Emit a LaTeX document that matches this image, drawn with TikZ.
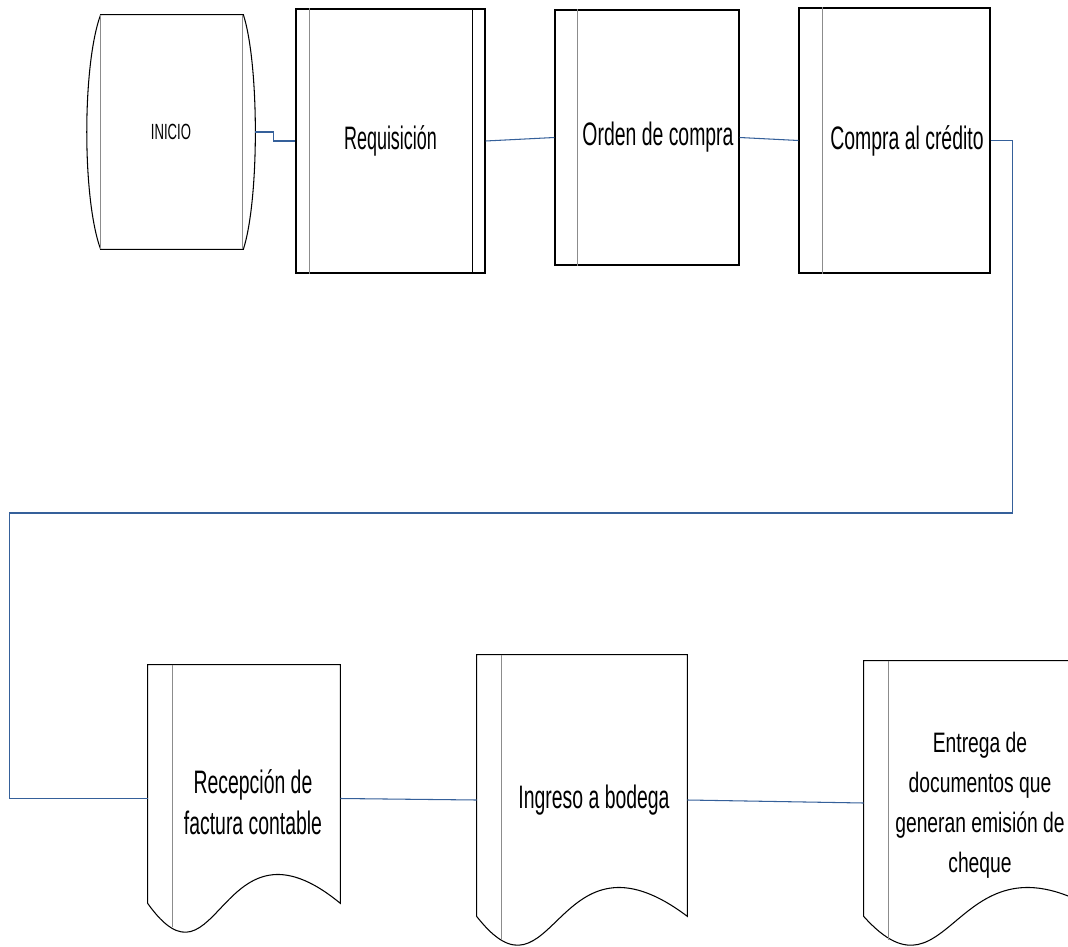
\documentclass[tikz,border=0pt]{standalone}
\usepackage{fontspec}
\setmainfont{Liberation Sans}[FakeStretch=0.597]
\newfontfamily\fcnarrow{Liberation Sans}[FakeStretch=0.553]
\newfontfamily\fcwide{Liberation Sans}[FakeStretch=0.686]
\usepackage{tikz}
\usetikzlibrary{calc, positioning}
\definecolor{fcLine}{HTML}{35609A}
\definecolor{fcBar}{HTML}{8C8C8C}
\tikzset{
  fcedge/.style={draw=black, line width=0.6pt},
  fcproc/.style={fcedge, inner sep=0pt, align=center},
  fcdoc/.style={inner sep=0pt},
  fcterm/.style={inner sep=0pt, font=\fontsize{12.5}{15}\selectfont},
  fcbar/.style={draw=fcBar, line width=0.8pt},
  fclink/.style={draw=fcLine, line width=0.6pt},
  fctext/.style={font=\fontsize{18.5}{23}\selectfont, align=center, inner sep=0pt},
}
% document shape: wavy bottom plus left bar
\newcommand{\fcdocshape}[1]{%
  \draw[fcedge] ($(#1.south east)+(0,0.58)$) -- (#1.north east) -- (#1.north west)
    -- ($(#1.south west)+(0,0.58)$)
    .. controls ($(#1.south west)!0.37!(#1.south east)+(0,-1.42)$)
    and ($(#1.south west)!0.37!(#1.south east)+(0,2.58)$) .. cycle;
  \draw[fcbar] ([xshift=0.5cm]#1.north west) -- ([xshift=0.5cm,yshift=0.1cm]#1.south west);}
\newcommand{\fcprocbar}[2]{%
  \draw[fcbar] ([xshift=#2]#1.north west) -- ([xshift=#2]#1.south west);}

\begin{document}
\begin{tikzpicture}
\useasboundingbox (0,0) rectangle (21.36,-18.94);
\clip (0,0) rectangle (21.36,-18.94);

% top row
\node[fcterm, minimum width=3.36cm, minimum height=4.68cm] (ini) at (3.42,-2.64) {INICIO};
\draw[fcedge] ([xshift=0.28cm]ini.north west) -- ([xshift=-0.24cm]ini.north east)
  .. controls ([xshift=0.08cm,yshift=-1.0cm]ini.north east) and ([xshift=0.08cm,yshift=1.0cm]ini.south east)
  .. ([xshift=-0.24cm]ini.south east) -- ([xshift=0.28cm]ini.south west)
  .. controls ([xshift=-0.09cm,yshift=1.0cm]ini.south west) and ([xshift=-0.09cm,yshift=-1.0cm]ini.north west)
  .. cycle;
\fcprocbar{ini}{0.28cm}
\fcprocbar{ini}{3.12cm}

\node[fcproc, fctext, font=\fcnarrow\fontsize{18.5}{23}\selectfont, minimum width=3.78cm, minimum height=5.28cm] (req) at (7.81,-2.82) {Requisición};
\fcprocbar{req}{0.28cm}
\draw[fcedge] ([xshift=-0.26cm]req.north east) -- ([xshift=-0.26cm]req.south east);

\node[fcproc, minimum width=3.68cm, minimum height=5.1cm] (ord) at (12.94,-2.75) {};
\fcprocbar{ord}{0.46cm}
\node[fctext] (ordtxt) at ($(ord)+(0.22,0)$) {Orden de compra};

\node[fcproc, minimum width=3.82cm, minimum height=5.3cm] (cmp) at (17.89,-2.81) {};
\fcprocbar{cmp}{0.48cm}
\node[fctext] (cmptxt) at ($(cmp)+(0.25,0)$) {Compra al crédito};

% bottom row
\node[fcdoc, minimum width=3.84cm, minimum height=5.34cm] (rec) at (4.88,-15.97) {};
\fcdocshape{rec}
\node[fctext] (rectxt) at ($(rec)+(0.18,-0.07)$) {Recepción de\\factura contable};

\node[fcdoc, minimum width=4.2cm, minimum height=5.8cm] (ing) at (11.64,-16.0) {};
\fcdocshape{ing}
\node[fctext] (ingtxt) at ($(ing)+(0.24,0)$) {Ingreso a bodega};

\node[fcdoc, minimum width=4.84cm, minimum height=5.68cm] (ent) at (19.7,-16.06) {};
\fcdocshape{ent}
\node[fctext, font=\fcwide\fontsize{16}{22.8}\selectfont] (enttxt) at ($(ent)+(-0.1,-0.04)$) {Entrega de\\documentos que\\generan emisión de\\cheque};

% connectors
\coordinate (turn) at (0.19,-10.26);
\draw[fclink] (ini.east) -- ++(0.36,0) |- (req.west);
\draw[fclink] (req.east) -- (ord.west);
\draw[fclink] (ord.east) -- (cmp.west);
\draw[fclink] (cmp.east) -- ++(0.44,0) |- (turn) |- (rec.west);
\draw[fclink] (rec.east) -- (ing.west);
\draw[fclink] (ing.east) -- (ent.west);
\end{tikzpicture}
\end{document}
